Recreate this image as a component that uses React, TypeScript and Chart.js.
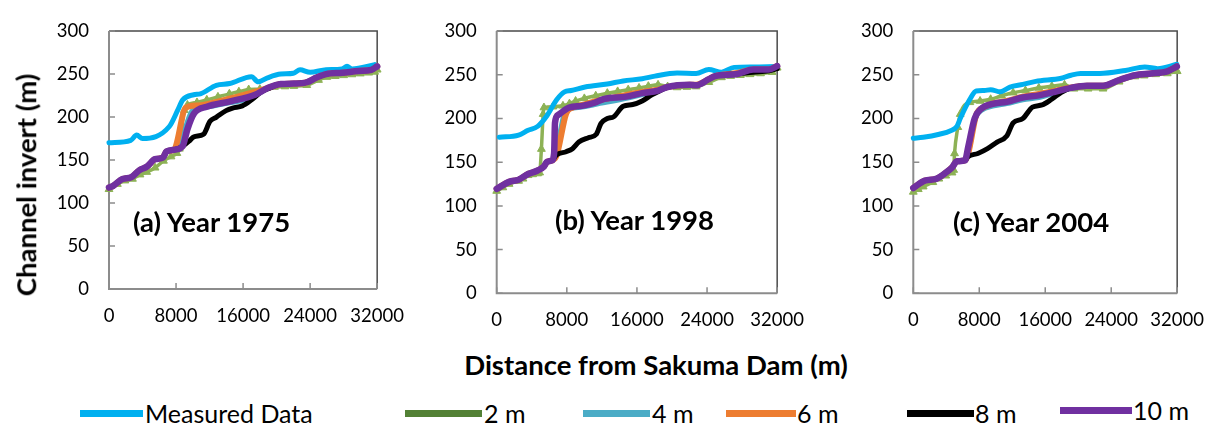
import React, { useEffect, useRef } from 'react';
import { Chart, registerables } from 'chart.js';

Chart.register(...registerables);

type Pt = [number, number];

// ---- axis settings ----
const xMin = 0;
const xMax = 32000;
const xStep = 8000;
const yMin = 0;
const yMax = 300;
const yStep = 50;

// ---- series names / colours ----
const seriesNames = ['Measured Data', '2 m', '4 m', '6 m', '8 m', '10 m'];
const lineColors = ['#00B0F0', '#8DB255', '#4BACC6', '#ED7D31', '#000000', '#7030A0'];
const legendColors = ['#00B0F0', '#538135', '#4BACC6', '#ED7D31', '#000000', '#7030A0'];
const panelTitles = ['(a) Year 1975', '(b) Year 1998', '(c) Year 2004'];

// ---- (a) Year 1975 ----
const aMeasured: Pt[] = [[0, 170], [2600, 173], [3300, 179], [4000, 175], [7200, 189], [8200, 208], [8800, 220], [10100, 226], [10900, 227], [12800, 237], [14400, 239], [17000, 247], [17800, 241], [19000, 246], [20500, 250], [22000, 251], [22800, 255], [24000, 252], [25900, 255], [27800, 256], [28400, 259], [29000, 256], [31700, 261]];
const a2m: Pt[] = [[0, 116], [1000, 122], [1900, 126], [2800, 128], [3700, 133], [4500, 136], [5500, 141], [6500, 149], [7400, 154], [8100, 158], [8400, 163], [8700, 190], [9000, 208], [9360, 214], [10500, 217], [11670, 220], [13000, 223.5], [14360, 227], [15500, 229.5], [16670, 232], [18000, 232.5], [19750, 235], [21000, 235.5], [22060, 236], [23600, 237], [25000, 243], [26000, 246.5], [27000, 247.5], [28000, 248.5], [29000, 249.5], [30000, 250.5], [31000, 251.5], [31700, 252.5], [32000, 255]];
const a4m: Pt[] = [[0, 118], [500, 120], [1600, 128], [2650, 130], [3600, 138], [4550, 142.5], [5500, 151], [6450, 153], [6850, 160], [7800, 162], [8500, 165], [9200, 190], [9900, 207], [11280, 211], [14360, 216.5], [16500, 221], [17800, 227], [18990, 234], [20520, 238.5], [22060, 239], [23600, 240.5], [24770, 246], [25900, 250], [27840, 251.5], [29770, 253.5], [31300, 255], [32000, 259]];
const a6m: Pt[] = [[0, 118], [500, 120], [1600, 128], [2650, 130], [3600, 138], [4550, 142.5], [5500, 151], [6450, 153], [6850, 160], [7800, 162], [8010, 167], [9160, 211], [10510, 213.5], [14360, 221.5], [17820, 230.5], [19000, 234], [20520, 238.5], [22060, 239], [23600, 240.5], [24770, 246], [25900, 250], [27840, 251.5], [29770, 253.5], [31300, 255], [32000, 259]];
const a8m: Pt[] = [[0, 118], [500, 120], [1600, 128], [2650, 130], [3600, 138], [4550, 142.5], [5500, 151], [6450, 153], [6850, 160], [7800, 162], [8780, 166], [9550, 172], [10130, 177], [11280, 180], [12050, 195], [12820, 200], [13970, 207.5], [14750, 210.5], [15900, 213], [17060, 220.5], [18210, 229.5], [18990, 233], [20520, 238.5], [22060, 239], [23600, 240.5], [24770, 246], [25900, 250], [27840, 251.5], [29770, 253.5], [31300, 255], [32000, 259]];
const a10m: Pt[] = [[0, 118], [500, 120], [1600, 128], [2650, 130], [3600, 138], [4550, 142.5], [5500, 151], [6450, 153], [6850, 160], [7800, 162], [8780, 166], [9360, 186], [10130, 204], [11670, 212], [14360, 218], [17440, 226], [18990, 234], [20520, 238.5], [22060, 239], [23600, 240.5], [24770, 246], [25900, 250], [27840, 251.5], [29770, 253.5], [31300, 255], [32000, 259]];

// ---- (b) Year 1998 ----
const bMeasured: Pt[] = [[300, 178.5], [2500, 181], [3580, 186.5], [4670, 191], [5750, 203.5], [6840, 221.5], [7740, 230.5], [8500, 232], [10090, 236], [12620, 239.5], [14430, 243], [16600, 245.5], [18040, 248.5], [20580, 252], [22750, 251.5], [24200, 256], [25640, 253], [27090, 258.5], [29260, 259], [31790, 259.5]];
const b2m: Pt[] = [[0, 117], [700, 121], [1410, 125], [2500, 128.5], [3000, 131], [3580, 135], [4100, 136], [4670, 137], [4900, 138], [5100, 165], [5300, 205], [5390, 212.5], [6400, 213.5], [7560, 214.5], [8300, 217], [9000, 220], [10000, 223], [11300, 226], [12620, 229], [13800, 231], [15000, 233], [16240, 235], [17300, 237], [18410, 238.5], [19500, 236.5], [20580, 235.5], [21700, 236], [22750, 236.5], [24200, 241.5], [25640, 247], [26700, 248.5], [27800, 249.5], [28900, 250.5], [30100, 251.5], [31430, 253], [32000, 258]];
const b4m: Pt[] = [[0, 119.5], [1410, 127.5], [2500, 130], [3580, 136.5], [4670, 140.5], [5390, 145], [5750, 150.5], [6300, 152], [6840, 165], [7700, 205], [8280, 211], [9730, 213], [11180, 216], [14790, 223], [16600, 227.5], [18410, 231.5], [19500, 236], [22030, 238.5], [22750, 238], [24200, 245], [24920, 248.5], [27450, 251], [29260, 256], [31060, 256], [32000, 260]];
const b6m: Pt[] = [[0, 119.5], [1410, 127.5], [2500, 130], [3580, 136.5], [4670, 140.5], [5390, 145], [5750, 150.5], [6300, 152], [6840, 158], [7920, 205.5], [8650, 212.5], [9730, 215.5], [11180, 219.5], [14790, 227], [16600, 230.5], [18410, 233], [19500, 236], [22030, 238.5], [22750, 238.5], [24200, 245], [24920, 248.5], [27450, 252], [29260, 256], [31060, 256], [32000, 260]];
const b8m: Pt[] = [[0, 119.5], [1410, 127.5], [2500, 130], [3580, 136.5], [4670, 140.5], [5390, 145], [5750, 150.5], [6300, 152], [6840, 158.5], [7920, 162], [8650, 165.5], [9370, 173], [10450, 178], [11360, 182], [11900, 194.5], [12620, 200], [13350, 202], [14430, 214], [15520, 216], [16600, 220], [17690, 227], [18770, 232.5], [19500, 236], [22030, 238.5], [22750, 238], [24200, 245], [24920, 248.5], [27450, 251], [29260, 253], [31060, 254.5], [32000, 257]];
const b10m: Pt[] = [[0, 119.5], [1410, 127.5], [2500, 130], [3580, 136.5], [4670, 140.5], [5390, 145], [5750, 150.5], [6300, 152], [6550, 160], [6650, 195], [7000, 204], [8280, 212.5], [9730, 214.5], [11180, 218], [12260, 222.5], [14790, 225], [16600, 229], [18410, 232], [19500, 236], [22030, 238.5], [22750, 238], [24200, 245], [24920, 248.5], [27450, 251], [29260, 256], [31060, 256], [32000, 260]];

// ---- (c) Year 2004 ----
const cMeasured: Pt[] = [[0, 177.5], [1200, 178.5], [3150, 182], [4520, 186], [5290, 191], [5690, 200], [6860, 222], [7630, 231.5], [8610, 232], [9380, 233], [10550, 230.5], [11720, 236], [13280, 239], [14840, 242.5], [17950, 246], [19120, 249.5], [20290, 251.5], [22630, 251.5], [25730, 255], [28070, 259], [29630, 257], [31960, 262]];
const c2m: Pt[] = [[0, 116], [600, 119], [1200, 122], [2370, 127], [3100, 131], [3940, 134.5], [4700, 138], [4900, 141], [5000, 160], [5400, 190], [5690, 205], [6860, 218.5], [8100, 220], [9380, 222], [10700, 226], [12110, 229.5], [13600, 232], [15220, 235], [16800, 237], [18340, 238.5], [19500, 234], [21200, 234], [23010, 234], [24960, 242], [26900, 248], [28000, 249], [29400, 250.5], [30800, 251.5], [32000, 254]];
const c4m: Pt[] = [[0, 120.5], [1400, 129], [2760, 131], [3940, 138], [4700, 144], [5290, 151], [6270, 152], [6660, 160], [7500, 200], [8220, 209], [9770, 214.5], [11330, 217], [13280, 221.5], [15220, 224], [17170, 229], [19120, 234.5], [21060, 237.5], [23010, 237.5], [24960, 244], [26900, 249.5], [28850, 251.5], [30800, 254], [31960, 259.5]];
const c6m: Pt[] = [[0, 120.5], [1400, 129], [2760, 131], [3940, 138], [4700, 144], [5290, 151], [6270, 152], [6660, 160], [7630, 204], [8610, 213], [9770, 217.5], [11330, 220], [13280, 225], [15220, 228], [17170, 231.5], [19120, 235.5], [21060, 237.5], [23010, 237.5], [24960, 244], [26900, 249.5], [28850, 251.5], [30800, 254], [31960, 259.5]];
const c8m: Pt[] = [[0, 120.5], [1400, 129], [2760, 131], [3940, 138], [4700, 144], [5290, 151], [6270, 152], [6660, 156.5], [7830, 160], [9000, 165.5], [10160, 173], [11330, 180], [12110, 195], [13280, 200], [14450, 213], [15620, 215.5], [16780, 222], [17950, 230], [19120, 235], [21060, 237.5], [23010, 237.5], [24960, 244], [26900, 249.5], [28850, 251.5], [30800, 254], [31960, 259.5]];
const c10m: Pt[] = [[0, 120.5], [1400, 129], [2760, 131], [3940, 138], [4700, 144], [5290, 151], [6270, 152], [6660, 167.5], [7440, 200], [8220, 211], [9770, 217], [11330, 219], [13280, 224], [15220, 226.5], [17170, 230.5], [19120, 235], [21060, 237.5], [23010, 237.5], [24960, 244], [26900, 249.5], [28850, 251.5], [30800, 254], [31960, 259.5]];

const panelSeries: Pt[][][] = [
  [aMeasured, a2m, a4m, a6m, a8m, a10m],
  [bMeasured, b2m, b4m, b6m, b8m, b10m],
  [cMeasured, c2m, c4m, c6m, c8m, c10m],
];

// ---- layout (pixels) ----
type Layout = { left: number; width: number; height: number; areaL: number; areaR: number; areaT: number; areaB: number };
const panelLayouts: Layout[] = [
  { left: 0, width: 420, height: 340, areaL: 109, areaR: 386, areaT: 16.5, areaB: 289 },
  { left: 400, width: 420, height: 340, areaL: 496.7, areaR: 792.3, areaT: 15.7, areaB: 293.3 },
  { left: 810, width: 410, height: 340, areaL: 913.3, areaR: 1186.7, areaT: 19.3, areaB: 293.3 },
];
const titlePos = [
  { x: 133, y: 222 },
  { x: 555, y: 220 },
  { x: 953, y: 222 },
];

const widths = [5, 3.5, 5, 6, 5, 6.5];
const orders = [4, 5, 3, 2, 1, 0];

const FONT = 'Lato, "Open Sans", "Liberation Sans", sans-serif';

const framePlugin = {
  id: 'frame',
  beforeDatasetsDraw(chart: any) {
    const { ctx, chartArea, scales } = chart;
    const { left, right, top, bottom } = chartArea;
    ctx.save();
    ctx.strokeStyle = '#4a4a4a';
    ctx.lineWidth = 1.5;
    ctx.beginPath();
    ctx.moveTo(left, top);
    ctx.lineTo(right, top);
    ctx.lineTo(right, bottom);
    ctx.stroke();
    ctx.strokeStyle = '#8c8c8c';
    ctx.lineWidth = 2;
    ctx.beginPath();
    ctx.moveTo(left, top);
    ctx.lineTo(left, bottom);
    ctx.lineTo(right, bottom);
    ctx.stroke();
    ctx.lineWidth = 1.5;
    ctx.beginPath();
    scales.x.ticks.forEach((t: any) => {
      const p = scales.x.getPixelForValue(t.value);
      ctx.moveTo(p, bottom);
      ctx.lineTo(p, bottom - 6);
    });
    scales.y.ticks.forEach((t: any) => {
      const p = scales.y.getPixelForValue(t.value);
      ctx.moveTo(left, p);
      ctx.lineTo(left + 6, p);
    });
    ctx.stroke();
    ctx.restore();
  },
};

function Panel({ index }: { index: number }) {
  const ref = useRef<HTMLCanvasElement>(null);
  const L = panelLayouts[index];
  useEffect(() => {
    if (!ref.current) return;
    const series = panelSeries[index];
    const chart = new Chart(ref.current, {
      type: 'line',
      data: {
        datasets: series.map((pts, i) => ({
          label: seriesNames[i],
          data: pts.map(([x, y]) => ({ x, y })),
          borderColor: lineColors[i],
          backgroundColor: lineColors[i],
          borderWidth: widths[i],
          pointRadius: i === 1 ? 4.5 : 0,
          pointStyle: 'triangle',
          pointBorderWidth: 1,
          pointBorderColor: lineColors[i],
          pointBackgroundColor: lineColors[i],
          tension: 0.25,
          cubicInterpolationMode: 'monotone',
          borderJoinStyle: 'round',
          borderCapStyle: 'round',
          fill: false,
          clip: false,
          order: orders[i],
        })),
      } as any,
      options: {
        responsive: false,
        animation: false,
        devicePixelRatio: 1,
        layout: {
          autoPadding: false,
          padding: { left: 0, top: L.areaT, right: L.width - (L.areaR - L.left), bottom: 0 },
        },
        plugins: { legend: { display: false }, tooltip: { enabled: false } },
        scales: {
          x: {
            type: 'linear',
            min: xMin,
            max: xMax,
            grid: { display: false, drawTicks: false },
            border: { display: false },
            ticks: { stepSize: xStep, padding: 16, color: '#000', font: { family: FONT, size: 18.5 }, maxRotation: 0, autoSkip: false, callback: (v: any) => String(v) },
            afterFit: (s: any) => { s.height = L.height - L.areaB; },
          },
          y: {
            type: 'linear',
            min: yMin,
            max: yMax,
            grid: { display: false, drawTicks: false },
            border: { display: false },
            ticks: { stepSize: yStep, padding: 20, color: '#000', font: { family: FONT, size: 18.5 }, callback: (v: any) => String(v) },
            afterFit: (s: any) => { s.width = L.areaL - L.left; },
          },
        },
      } as any,
      plugins: [framePlugin],
    });
    return () => chart.destroy();
  }, [index]);
  return (
    <canvas
      ref={ref}
      width={L.width}
      height={L.height}
      style={{ position: 'absolute', left: L.left, top: 0, width: L.width, height: L.height }}
    />
  );
}

const legendItems = [
  { x1: 80, x2: 143, tx: 145, y: 413 },
  { x1: 405, x2: 482, tx: 484, y: 413 },
  { x1: 583, x2: 650, tx: 652, y: 413 },
  { x1: 726, x2: 796, tx: 797, y: 413 },
  { x1: 907, x2: 974, tx: 975, y: 413 },
  { x1: 1060, x2: 1132, tx: 1133, y: 410 },
];

export default function App() {
  return (
    <div style={{ position: 'absolute', left: 0, top: 0, width: 1220, height: 428, background: '#fff', fontFamily: FONT, overflow: 'hidden' }}>
      {[0, 1, 2].map((i) => <Panel key={i} index={i} />)}
      {panelTitles.map((t, i) => (
        <div key={t} style={{ position: 'absolute', left: titlePos[i].x, top: titlePos[i].y, transform: 'translateY(-50%)', fontWeight: 700, fontSize: 27.5, lineHeight: 1, whiteSpace: 'nowrap', color: '#000' }}>{t}</div>
      ))}
      <div style={{ position: 'absolute', left: 26, top: 185, transform: 'translate(-50%, -50%) rotate(-90deg)', fontWeight: 700, fontSize: 27.5, lineHeight: 1, whiteSpace: 'nowrap', color: '#000' }}>Channel invert (m)</div>
      <div style={{ position: 'absolute', left: 656, top: 365, transform: 'translate(-50%, -50%)', fontWeight: 700, fontSize: 27.5, lineHeight: 1, whiteSpace: 'nowrap', color: '#000' }}>Distance from Sakuma Dam (m)</div>
      {legendItems.map((it, i) => (
        <React.Fragment key={i}>
          <div style={{ position: 'absolute', left: it.x1, top: it.y - 3.5, width: it.x2 - it.x1, height: 7, background: legendColors[i] }} />
          <div style={{ position: 'absolute', left: it.tx, top: it.y, transform: 'translateY(-50%)', fontSize: 25, lineHeight: 1, whiteSpace: 'nowrap', color: '#000' }}>{seriesNames[i]}</div>
        </React.Fragment>
      ))}
    </div>
  );
}
